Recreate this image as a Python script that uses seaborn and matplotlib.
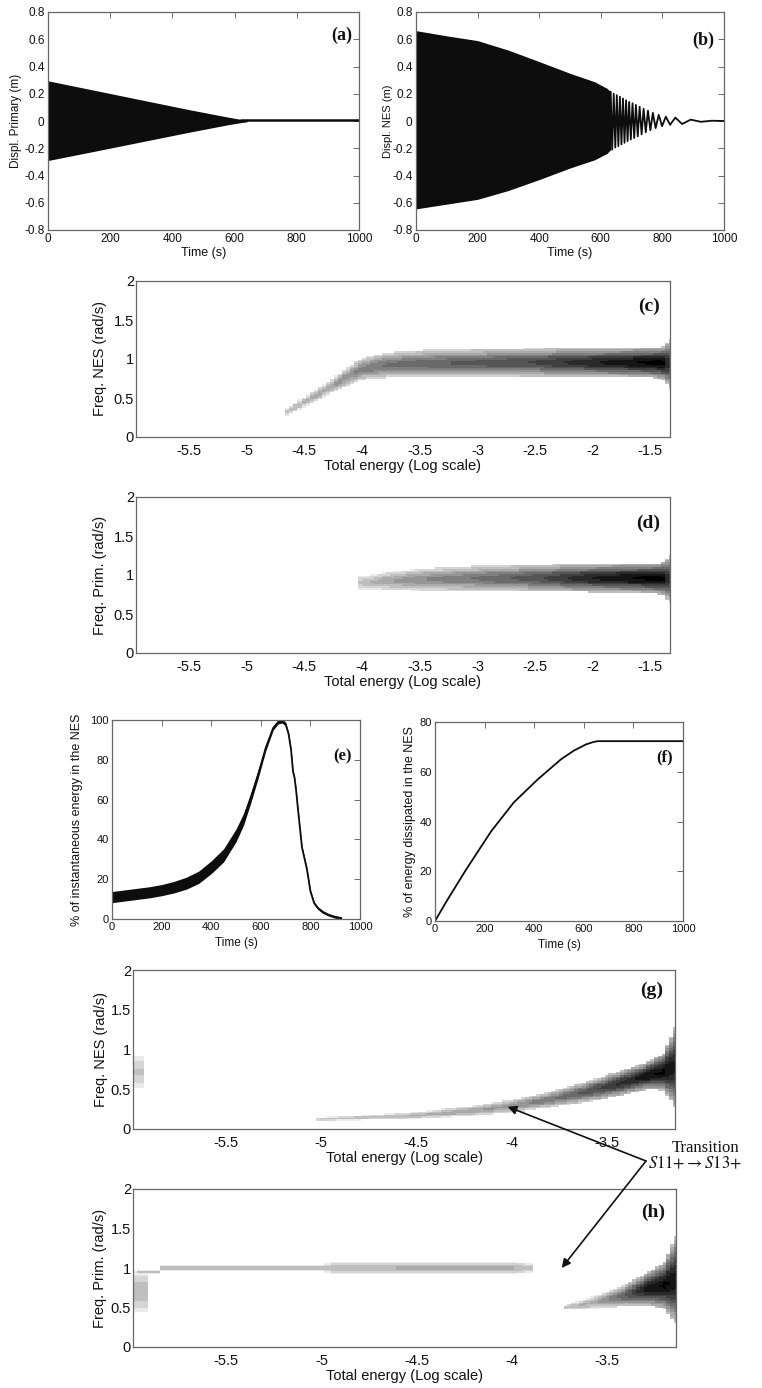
import numpy as np
import matplotlib
matplotlib.use("Agg")
import matplotlib.pyplot as plt
import seaborn as sns

sns.set_theme(style="white")
plt.rcParams['font.family'] = ['Liberation Sans', 'DejaVu Sans']
plt.rcParams['mathtext.fontset'] = 'stix'
plt.rcParams['axes.unicode_minus'] = False

# ---------------- data ----------------
# (a) primary displacement: envelope of the dense oscillation, then residual line
a_env_t = [0, 150, 300, 450, 580, 620, 640]
a_env_up = [0.295, 0.225, 0.155, 0.085, 0.028, 0.012, 0.006]
a_env_dn = [-0.29, -0.222, -0.153, -0.084, -0.027, -0.012, -0.006]
a_tail_t = [620, 1000]
a_tail_v = [0.005, 0.005]

# (b) NES displacement: envelope of dense part, then resolved extrema
b_env_t = [0, 100, 200, 300, 400, 500, 580, 620, 632]
b_env_up = [0.663, 0.625, 0.59, 0.52, 0.436, 0.35, 0.288, 0.24, 0.215]
b_env_dn = [-0.645, -0.61, -0.575, -0.51, -0.43, -0.345, -0.285, -0.238, -0.21]
b_tail_t = [632, 637, 642, 647, 652, 657, 662, 667, 672, 677, 682, 687, 692,
            697.5, 703, 708.5, 714, 720, 726, 732.5, 739, 746, 753, 761, 769,
            778, 788, 799, 811, 825, 842, 864, 892, 925, 960, 1000]
b_tail_v = [0.215, -0.21, 0.2, -0.195, 0.19, -0.185, 0.178, -0.172, 0.165,
            -0.16, 0.152, -0.148, 0.14, -0.136, 0.13, -0.125, 0.118, -0.112,
            0.105, -0.098, 0.09, -0.083, 0.076, -0.068, 0.06, -0.052, 0.045,
            -0.038, 0.032, -0.028, 0.025, -0.022, 0.01, -0.006, 0.002, 0.0]

disp_ticks = [-0.8, -0.6, -0.4, -0.2, 0, 0.2, 0.4, 0.6, 0.8]
disp_labels = ['-0.8', '-0.6', '-0.4', '-0.2', '0', '0.2', '0.4', '0.6', '0.8']

# (c) NES frequency ridge vs log total energy:
#     position, centre, half-extent of the visible band, darkness of the core
c_x = [-4.65, -4.5, -4.3, -4.1, -4.0, -3.8, -3.5, -3.0, -2.5, -2.0, -1.6, -1.4, -1.33]
c_center = [0.32, 0.45, 0.62, 0.80, 0.87, 0.92, 0.94, 0.95, 0.955, 0.955, 0.955, 0.95, 0.94]
c_spread = [0.05, 0.065, 0.085, 0.12, 0.14, 0.16, 0.17, 0.175, 0.18, 0.18, 0.185, 0.2, 0.32]
c_level = [0.28, 0.3, 0.35, 0.45, 0.5, 0.55, 0.6, 0.65, 0.72, 0.86, 0.96, 1.0, 0.75]

# (d) primary frequency ridge
d_x = [-4.0, -3.8, -3.5, -3.0, -2.5, -2.0, -1.6, -1.4, -1.33]
d_center = [0.9, 0.92, 0.94, 0.955, 0.96, 0.96, 0.96, 0.955, 0.95]
d_spread = [0.08, 0.11, 0.14, 0.16, 0.17, 0.18, 0.185, 0.2, 0.3]
d_level = [0.25, 0.35, 0.45, 0.55, 0.68, 0.88, 0.97, 1.0, 0.75]

# (e) % of instantaneous energy in the NES (band centre and half-thickness)
e_t = [0, 50, 100, 150, 200, 250, 300, 350, 400, 450, 500, 530, 560, 590, 620,
       650, 670, 685, 700, 712, 722, 730, 736, 742, 750, 766, 786, 800, 815,
       830, 850, 875, 900, 925]
e_mid = [11, 11.8, 12.6, 13.4, 14.5, 16, 18, 21, 26, 32, 42, 50, 61, 73, 86,
         96, 99, 99.5, 98, 93, 85, 74, 71, 65, 55, 36, 25, 14, 8, 5.5, 3.5, 2,
         1, 0.5]
e_half = [2.8, 2.8, 2.8, 2.8, 2.8, 2.9, 3.0, 3.1, 3.2, 3.3, 3.2, 3.0, 2.5, 2.0,
          1.5, 1.0, 1.0, 1.0, 0.9, 0.8, 0.8, 0.8, 0.8, 0.8, 0.8, 0.8, 0.8, 0.8,
          0.7, 0.7, 0.7, 0.6, 0.6, 0.5]

# (f) % of energy dissipated in the NES
f_t = [0, 50, 125, 226, 318, 415, 508, 560, 609, 640, 657, 700, 1000]
f_v = [0, 8.5, 20.6, 36, 47.7, 57, 65, 68.5, 71, 72, 72.3, 72.3, 72.3]

# (g) NES frequency ridge (second case) plus weak blob at the low-energy edge
g_x = [-5.03, -4.8, -4.5, -4.2, -4.0, -3.8, -3.6, -3.45, -3.3, -3.2, -3.14]
g_center = [0.12, 0.14, 0.17, 0.23, 0.29, 0.37, 0.47, 0.56, 0.66, 0.72, 0.78]
g_spread = [0.022, 0.03, 0.045, 0.065, 0.08, 0.1, 0.13, 0.155, 0.17, 0.23, 0.5]
g_level = [0.25, 0.27, 0.3, 0.36, 0.42, 0.52, 0.66, 0.8, 0.93, 0.98, 0.9]
g_blob_x = [-5.99, -5.95]
g_blob_center = [0.72, 0.72]
g_blob_spread = [0.2, 0.2]
g_blob_level = [0.22, 0.22]

# (h) primary frequency: weak band near 1 rad/s, blob at left edge, ridge at high energy
h1_x = [-5.96, -5.86, -5.85, -5.0, -4.95, -4.6, -4.0, -3.9]
h1_center = [0.95, 0.95, 1.0, 1.0, 1.0, 1.0, 1.0, 1.0]
h1_spread = [0.025, 0.025, 0.035, 0.035, 0.075, 0.075, 0.075, 0.06]
h1_level = [0.25, 0.25, 0.24, 0.24, 0.26, 0.3, 0.3, 0.25]
h_blob_x = [-5.99, -5.93]
h_blob_center = [0.7, 0.7]
h_blob_spread = [0.25, 0.25]
h_blob_level = [0.28, 0.28]
h2_x = [-3.72, -3.6, -3.5, -3.4, -3.3, -3.2, -3.14]
h2_center = [0.5, 0.55, 0.6, 0.66, 0.73, 0.78, 0.85]
h2_spread = [0.03, 0.07, 0.1, 0.14, 0.2, 0.3, 0.55]
h2_level = [0.25, 0.32, 0.45, 0.65, 0.9, 0.98, 0.92]

time_ticks = [0, 200, 400, 600, 800, 1000]
energy_ticks_cd = [-5.5, -5, -4.5, -4, -3.5, -3, -2.5, -2, -1.5]
energy_ticks_gh = [-5.5, -5, -4.5, -4, -3.5]
freq_ticks = [0, 0.5, 1, 1.5, 2]

# ---------------- figure ----------------
W, H = 762, 1388
fig = plt.figure(figsize=(W / 100, H / 100), dpi=100)
fig.patch.set_facecolor('white')


def add_ax(l, t, r, b):
    return fig.add_axes([l / W, 1 - b / H, (r - l) / W, (b - t) / H])


def style(ax, size, pad):
    ax.set_facecolor('white')
    ax.tick_params(direction='in', top=True, right=True, length=4, width=0.6,
                   color='#555555', labelcolor='#111111', labelsize=size, pad=pad)
    for s in ax.spines.values():
        s.set_visible(True)
        s.set_color('#666666')
        s.set_linewidth(0.9)
    ax.grid(False)


def fmt(v):
    return f"{v:g}"


def panel_label(ax, text, x, y, size):
    ax.text(x, y, text, transform=ax.transAxes, ha='right', va='center',
            fontsize=size, fontweight='bold', family='Liberation Serif',
            color='#111111')


def ridge(ax, segments, xlim, dx, dy):
    """Grey-level ridge image; each segment gives, along log energy, the
    centre frequency, the half-extent of the visible band and the core level."""
    xe = np.arange(xlim[0], xlim[1] + dx, dx)
    ye = np.arange(0, 2 + dy / 2, dy)
    xc = (xe[:-1] + xe[1:]) / 2
    yc = (ye[:-1] + ye[1:]) / 2
    Z = np.zeros((len(yc), len(xc)))
    for xs, cs, ws, ls in segments:
        inside = (xc >= xs[0] - dx / 2) & (xc <= xs[-1] + dx / 2)
        c = np.interp(xc, xs, cs)
        w = np.interp(xc, xs, ws)
        lv = np.interp(xc, xs, ls)
        r = (yc[:, None] - c[None, :]) / w[None, :]
        g = lv[None, :] * np.exp(-1.3 * r ** 2)
        g[np.abs(r) > 1] = 0
        g[:, ~inside] = 0
        Z = np.maximum(Z, g)
    Z = np.round(Z * 12) / 12
    ax.pcolormesh(xe, ye, Z, cmap='gray_r', vmin=0, vmax=1, shading='flat',
                  rasterized=True)


def energy_axes(ax, xlim, ticks, ylabel, ylab_x):
    style(ax, 10.5, 5)
    ax.set_xlim(*xlim)
    ax.set_ylim(0, 2)
    ax.set_xticks(ticks)
    ax.set_xticklabels([fmt(t) for t in ticks])
    ax.set_yticks(freq_ticks)
    ax.set_yticklabels([fmt(t) for t in freq_ticks])
    ax.tick_params(axis='y', pad=1.5)
    ax.set_xlabel('Total energy (Log scale)', fontsize=10.5, labelpad=1,
                  color='#111111')
    ax.set_ylabel(ylabel, fontsize=10.5, color='#111111')
    ax.yaxis.set_label_coords(ylab_x, 0.5)


def time_axes(ax, ylim, yticks, ylabels, ylabel, ylab_x, tsize, lsize, xlsize, xlpad):
    style(ax, tsize, 2.5)
    ax.set_xlim(0, 1000)
    ax.set_ylim(*ylim)
    ax.set_xticks(time_ticks)
    ax.set_xticklabels([str(t) for t in time_ticks])
    ax.set_yticks(yticks)
    ax.set_yticklabels(ylabels)
    ax.set_xlabel('Time (s)', fontsize=xlsize, labelpad=xlpad, color='#111111')
    ax.set_ylabel(ylabel, fontsize=lsize, color='#111111')
    ax.yaxis.set_label_coords(ylab_x, 0.5)


# (a)
ax_a = add_ax(48, 12, 359, 230)
ax_a.fill_between(a_env_t, a_env_dn, a_env_up, color='#0d0d0d', lw=0)
sns.lineplot(x=a_tail_t, y=a_tail_v, ax=ax_a, color='#0d0d0d', lw=1.8)
time_axes(ax_a, (-0.8, 0.8), disp_ticks, disp_labels, 'Displ. Primary (m)',
          -0.084, 8.5, 8.5, 9, 1)
panel_label(ax_a, '(a)', 0.977, 0.895, 13)

# (b)
ax_b = add_ax(416, 12, 724, 230)
ax_b.fill_between(b_env_t, b_env_dn, b_env_up, color='#0d0d0d', lw=0)
sns.lineplot(x=b_tail_t, y=b_tail_v, ax=ax_b, color='#0d0d0d', lw=1.3)
time_axes(ax_b, (-0.8, 0.8), disp_ticks, disp_labels, 'Displ. NES (m)',
          -0.075, 8.5, 8, 9, 1)
panel_label(ax_b, '(b)', 0.968, 0.87, 13)

# (c)
ax_c = add_ax(136, 281, 670, 437)
ridge(ax_c, [(c_x, c_center, c_spread, c_level)], (-5.96, -1.33), 0.035, 0.022)
energy_axes(ax_c, (-5.96, -1.33), energy_ticks_cd, 'Freq. NES (rad/s)', -0.054)
panel_label(ax_c, '(c)', 0.981, 0.84, 14)

# (d)
ax_d = add_ax(136, 497, 670, 653)
ridge(ax_d, [(d_x, d_center, d_spread, d_level)], (-5.96, -1.33), 0.035, 0.022)
energy_axes(ax_d, (-5.96, -1.33), energy_ticks_cd, 'Freq. Prim. (rad/s)', -0.054)
panel_label(ax_d, '(d)', 0.981, 0.83, 14)

# (e)
ax_e = add_ax(112, 720, 360, 919)
e_lo = np.array(e_mid) - np.array(e_half)
e_hi = np.array(e_mid) + np.array(e_half)
ax_e.fill_between(e_t, e_lo, e_hi, color='#0d0d0d', lw=0)
sns.lineplot(x=e_t, y=e_mid, ax=ax_e, color='#0d0d0d', lw=1.3)
time_axes(ax_e, (0, 100), [0, 20, 40, 60, 80, 100],
          ['0', '20', '40', '60', '80', '100'],
          '% of instantaneous energy in the NES', -0.117, 8, 9, 8.5, 3)
panel_label(ax_e, '(e)', 0.968, 0.815, 12)

# (f)
ax_f = add_ax(435, 722, 683, 921)
sns.lineplot(x=f_t, y=f_v, ax=ax_f, color='#0d0d0d', lw=1.3)
time_axes(ax_f, (0, 80), [0, 20, 40, 60, 80], ['0', '20', '40', '60', '80'],
          '% of energy dissipated in the NES', -0.077, 8, 9, 8.5, 3)
panel_label(ax_f, '(f)', 0.96, 0.82, 12)

# (g)
ax_g = add_ax(133, 970, 675, 1129)
ridge(ax_g, [(g_x, g_center, g_spread, g_level),
             (g_blob_x, g_blob_center, g_blob_spread, g_blob_level)],
      (-5.99, -3.14), 0.02, 0.02)
energy_axes(ax_g, (-5.99, -3.14), energy_ticks_gh, 'Freq. NES (rad/s)', -0.046)
panel_label(ax_g, '(g)', 0.978, 0.875, 14)

# (h)
ax_h = add_ax(133, 1189, 676, 1347)
ridge(ax_h, [(h1_x, h1_center, h1_spread, h1_level),
             (h_blob_x, h_blob_center, h_blob_spread, h_blob_level),
             (h2_x, h2_center, h2_spread, h2_level)],
      (-5.99, -3.14), 0.02, 0.02)
energy_axes(ax_h, (-5.99, -3.14), energy_ticks_gh, 'Freq. Prim. (rad/s)', -0.048)
panel_label(ax_h, '(h)', 0.98, 0.85, 14)

# transition annotation
vertex = (646 / W, 1 - 1161 / H)
arrow = dict(arrowstyle='-|>', color='#111111', lw=1.2, shrinkA=0, shrinkB=0,
             mutation_scale=13)
ax_g.annotate('', xy=(-4.02, 0.28), xycoords='data', xytext=vertex,
              textcoords='figure fraction', arrowprops=arrow,
              annotation_clip=False, zorder=10)
ax_h.annotate('', xy=(-3.74, 1.0), xycoords='data', xytext=vertex,
              textcoords='figure fraction', arrowprops=arrow,
              annotation_clip=False, zorder=10)
fig.text(706 / W, 1 - 1148 / H, 'Transition', ha='center', va='center',
         fontsize=12, family='Liberation Serif', color='#111111')
fig.text(648 / W, 1 - 1163 / H, r'$S\mathrm{11{+}}\rightarrow S\mathrm{13{+}}$',
         ha='left', va='center', fontsize=12, color='#111111')

fig.savefig('out.png', dpi=100, facecolor='white')
